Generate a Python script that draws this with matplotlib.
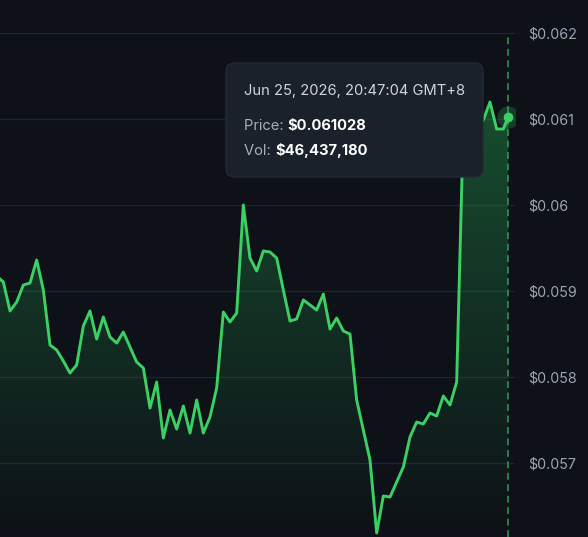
import numpy as np
import matplotlib.pyplot as plt
from matplotlib.patches import FancyBboxPatch
from matplotlib.text import Annotation

# price samples, one per step (last one is the live tick, a bit before the next step)
steps = list(range(-1, 76)) + [75.7]
price = [0.059179, 0.059109, 0.058772, 0.058876, 0.059074, 0.059097, 0.059365, 0.059016,
         0.058376, 0.058318, 0.058190, 0.058050, 0.058144, 0.058597, 0.058772, 0.058446,
         0.058702, 0.058469, 0.058399, 0.058527, 0.058353, 0.058178, 0.058109, 0.057643,
         0.057946, 0.057294, 0.057620, 0.057399, 0.057667, 0.057352, 0.057736, 0.057352,
         0.057539, 0.057876, 0.058760, 0.058644, 0.058748, 0.060005, 0.059388, 0.059237,
         0.059470, 0.059458, 0.059388, 0.059016, 0.058655, 0.058679, 0.058900, 0.058842,
         0.058783, 0.058969, 0.058562, 0.058690, 0.058539, 0.058504, 0.057736, 0.057387,
         0.057038, 0.056189, 0.056620, 0.056608, 0.056782, 0.056957, 0.057306, 0.057480,
         0.057457, 0.057585, 0.057550, 0.057783, 0.057678, 0.057946, 0.060936, 0.061017,
         0.060901, 0.060994, 0.061203, 0.060889, 0.060889, 0.061028]

yticks = [0.057, 0.058, 0.059, 0.060, 0.061, 0.062]
ytick_labels = ['$0.057', '$0.058', '$0.059', '$0.06', '$0.061', '$0.062']

tip_date = 'Jun 25, 2026, 20:47:04 GMT+8'
tip_price = '$0.061028'
tip_vol = '$46,437,180'

bg = '#0e1117'
green = '#3ccf63'

plt.rcParams['font.family'] = ['Inter', 'DejaVu Sans']

fig = plt.figure(figsize=(5.88, 5.37), dpi=100, facecolor=bg)
ax = fig.add_axes([0, 0, 515/588, 1])
ax.set_facecolor(bg)

ylo, yhi = 0.0561426, 0.0623897
ax.set_ylim(ylo, yhi)
ax.set_xlim(-0.5, 76.75)

# gridlines + right labels
ax.set_yticks(yticks, ytick_labels)
ax.yaxis.tick_right()
ax.tick_params(axis='y', length=0, pad=9.4, labelsize=10.3, labelcolor='#9aa5b4')
ax.tick_params(axis='x', bottom=False, labelbottom=False)
ax.grid(axis='y', color='#1f252e', linewidth=1)
ax.set_axisbelow(True)
for s in ax.spines.values():
    s.set_visible(False)

# gradient area under the line
poly = ax.fill_between(steps, price, ylo, color='none', linewidth=0)
grad = np.zeros((256, 1, 4))
grad[:, 0, 0] = 0.16
grad[:, 0, 1] = 0.78
grad[:, 0, 2] = 0.37
grad[:, 0, 3] = np.linspace(0.42, 0.0, 256)
img = ax.imshow(grad, extent=[-0.5, 76.75, ylo, yhi], aspect='auto', origin='upper',
                zorder=1, interpolation='bilinear')
img.set_clip_path(poly.get_paths()[0], transform=ax.transData)

ax.plot(steps, price, color=green, linewidth=2.1, zorder=3, solid_joinstyle='round')

# hover marker
ax.vlines(steps[-1], ylo, 0.062, colors='#2e9e58', linestyles=(0, (4.5, 3)), linewidth=1.1, zorder=2)
ax.plot(steps[-1], price[-1], 'o', color=green, markersize=16, alpha=0.22, markeredgewidth=0, zorder=4)
ax.plot(steps[-1], price[-1], 'o', color=green, markersize=7, markeredgewidth=0, zorder=5)

# tooltip
W, H = 588, 537
fs = 10.6
box = FancyBboxPatch((226/W, 1-177/H), 257/W, 114/H, boxstyle='round,pad=0,rounding_size=0.015',
                     transform=fig.transFigure, facecolor='#1b212b', edgecolor='#232a35',
                     linewidth=1, zorder=10)
fig.patches.append(box)
fig.text(244/W, 1-91/H, tip_date, color='#cfd5dd', fontsize=fs, va='center', zorder=11)
t1 = fig.text(244/W, 1-126/H, 'Price: ', color='#a7afba', fontsize=fs, va='center', zorder=11)
fig.add_artist(Annotation(tip_price, xy=(1, 0), xycoords=t1, va='bottom', ha='left', color='#ffffff',
                          fontsize=fs, fontweight='bold', zorder=11, annotation_clip=False))
t2 = fig.text(244/W, 1-151/H, 'Vol: ', color='#a7afba', fontsize=fs, va='center', zorder=11)
fig.add_artist(Annotation(tip_vol, xy=(1, 0), xycoords=t2, va='bottom', ha='left', color='#ffffff',
                          fontsize=fs, fontweight='bold', zorder=11, annotation_clip=False))

plt.savefig('out.png', dpi=100, facecolor=bg)
